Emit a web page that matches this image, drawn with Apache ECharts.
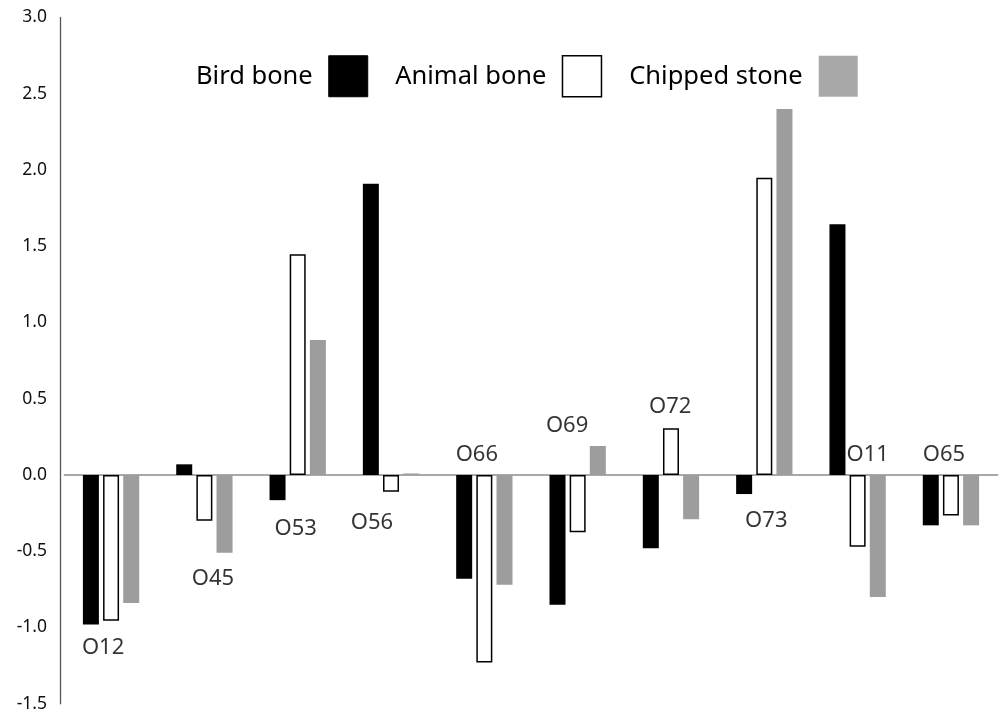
<!DOCTYPE html>
<html>
<head>
<meta charset="utf-8">
<script src="https://cdn.jsdelivr.net/npm/echarts@6/dist/echarts.min.js"></script>
<style>
  html, body { margin: 0; padding: 0; background: #fff; }
  #chart { width: 1000px; height: 714px; }
</style>
</head>
<body>
<div id="chart"></div>
<script>
// ---- data ----
const categories = ['O12', 'O45', 'O53', 'O56', 'O66', 'O69', 'O72', 'O73', 'O11', 'O65'];
const seriesNames = ['Bird bone', 'Animal bone', 'Chipped stone'];
const birdBone     = [-0.98,  0.07, -0.165,  1.91, -0.68, -0.85, -0.48, -0.125,  1.645, -0.33];
const animalBone   = [-0.955, -0.30,  1.447, -0.11, -1.23, -0.375, 0.306,  1.95, -0.47, -0.265];
const chippedStone = [-0.84, -0.51,  0.885,  0.01, -0.72,  0.19, -0.29,  2.40, -0.80, -0.33];
// vertical anchor (in axis units) of each category's name label
const labelY = [-1.134, -0.682, -0.354, -0.315, 0.131, 0.321, 0.45, -0.302, 0.131, 0.131];
const yTicks = { min: -1.5, max: 3.0, step: 0.5 };

// ---- layout / style (kept separate from data) ----
const labelDx = [-8, 8.5, -2, -19, -7.5, -10.6, -0.8, 2, 10, -7];
const GRAY = '#9d9d9d';
const FONT = 'Noto Sans';

const chart = echarts.init(document.getElementById('chart'), null, { renderer: 'canvas' });

const option = {
  backgroundColor: '#fff',
  animation: false,
  grid: { left: 64.4, right: 2.4, top: 17.5, bottom: 10.25, containLabel: false },
  legend: {
    data: [
      { name: seriesNames[0], itemStyle: { color: '#000', borderColor: '#000', borderWidth: 1 } },
      { name: seriesNames[1], itemStyle: { color: '#fff', borderColor: '#000', borderWidth: 1.5 } },
      { name: seriesNames[2], itemStyle: { color: '#a8a8a8', borderWidth: 0 } }
    ],
    left: 191, top: 50,
    align: 'right',
    itemWidth: 39, itemHeight: 41, itemGap: 27,
    icon: 'rect',
    textStyle: { fontFamily: FONT, fontSize: 25.5, color: '#000', padding: [0, 11, 0, 0] }
  },
  xAxis: {
    type: 'category',
    data: categories,
    axisLine: { show: true, onZero: true, lineStyle: { color: '#8c8c8c', width: 1.5 } },
    axisTick: { show: false },
    axisLabel: { show: false },
    splitLine: { show: false }
  },
  yAxis: {
    type: 'value',
    min: yTicks.min, max: yTicks.max, interval: yTicks.step,
    offset: 4.4,
    axisLine: { show: true, lineStyle: { color: '#555', width: 1.3 } },
    axisTick: { show: false },
    splitLine: { show: false },
    axisLabel: {
      fontFamily: FONT, fontSize: 17.5, color: '#111', margin: 13,
      formatter: v => v.toFixed(1)
    }
  },
  series: [
    {
      name: seriesNames[0], type: 'bar', data: birdBone,
      barWidth: 16, barGap: '26%',
      itemStyle: { color: '#000' }
    },
    {
      name: seriesNames[1], type: 'bar', data: animalBone,
      barWidth: 16, barGap: '26%',
      itemStyle: { color: '#fff', borderColor: '#000', borderWidth: 1.5 }
    },
    {
      name: seriesNames[2], type: 'bar', data: chippedStone,
      barWidth: 16, barGap: '26%',
      itemStyle: { color: GRAY }
    },
    {
      name: 'labels', type: 'scatter',
      symbolSize: 1,
      itemStyle: { color: 'rgba(0,0,0,0)' },
      silent: true,
      z: 10,
      data: categories.map((c, i) => ({
        value: [c, labelY[i]],
        label: { offset: [labelDx[i], 0] }
      })),
      label: {
        show: true, position: 'inside',
        formatter: p => p.name || categories[p.dataIndex],
        fontFamily: FONT, fontSize: 22, color: '#000'
      }
    }
  ]
};
chart.setOption(option);
</script>
</body>
</html>
